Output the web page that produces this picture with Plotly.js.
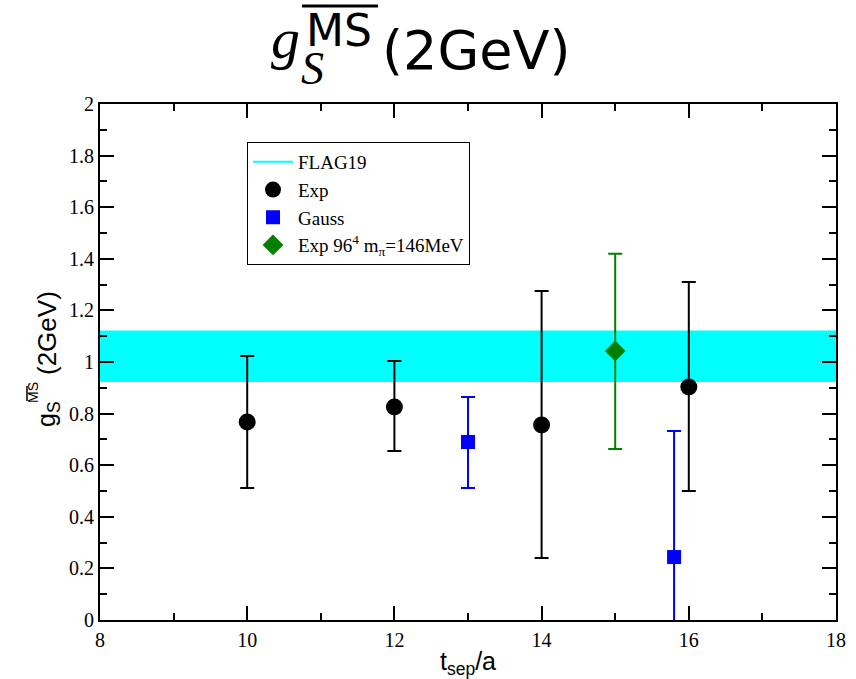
<!DOCTYPE html>
<html>
<head>
<meta charset="utf-8">
<script src="https://cdn.plot.ly/plotly-3.0.1.min.js"></script>
<style>html,body{margin:0;padding:0;background:#fff;}#chart{width:856px;height:679px;}</style>
</head>
<body>
<div id="chart"></div>
<script>
// ---- data ----
const flagBand = {xmin: 8, xmax: 18, low: 0.922, high: 1.122};

const expX   = [10, 12, 14, 16];
const expY   = [0.767, 0.826, 0.756, 0.903];
const expUp  = [0.256, 0.178, 0.519, 0.407];
const expDn  = [0.255, 0.171, 0.516, 0.403];

const gaussX  = [13, 15.8];
const gaussY  = [0.690, 0.244];
const gaussUp = [0.174, 0.489];
const gaussDn = [0.178, 0.489];

const exp96X  = [15];
const exp96Y  = [1.043];
const exp96Up = [0.377];
const exp96Dn = [0.380];

const xTickVals = [8, 10, 12, 14, 16, 18];
const yTickVals = [0, 0.2, 0.4, 0.6, 0.8, 1, 1.2, 1.4, 1.6, 1.8, 2];

// ---- geometry helpers (pixel -> paper) ----
const L = 100, R = 20, T = 104, B = 59, W = 856, H = 679;
const pw = W - L - R, ph = H - T - B;
const px = v => (v - L) / pw;
const py = v => (H - B - v) / ph;

const traces = [
  {x: [flagBand.xmin, flagBand.xmax, flagBand.xmax, flagBand.xmin],
   y: [flagBand.low, flagBand.low, flagBand.high, flagBand.high],
   fill: 'toself', fillcolor: '#00ffff', mode: 'lines', line: {width: 0, color: '#00ffff'},
   showlegend: false, hoverinfo: 'skip'},
  {x: [null], y: [null], mode: 'lines', name: 'FLAG19', line: {color: '#00ffff', width: 2}},
  {x: expX, y: expY, mode: 'markers', name: 'Exp',
   marker: {symbol: 'circle', size: 17, color: '#000000'},
   error_y: {type: 'data', symmetric: false, array: expUp, arrayminus: expDn, color: '#000000', thickness: 2, width: 7}},
  {x: gaussX, y: gaussY, mode: 'markers', name: 'Gauss',
   marker: {symbol: 'square', size: 14, color: '#0000ff'},
   error_y: {type: 'data', symmetric: false, array: gaussUp, arrayminus: gaussDn, color: '#0000ff', thickness: 2, width: 7}},
  {x: exp96X, y: exp96Y, mode: 'markers', name: 'Exp 96<sup>4</sup> m<sub>π</sub>=146MeV',
   marker: {symbol: 'diamond', size: 16, color: '#008000'},
   error_y: {type: 'data', symmetric: false, array: exp96Up, arrayminus: exp96Dn, color: '#008000', thickness: 2, width: 7}}
];

const axisCommon = {
  showline: true, linecolor: '#000', linewidth: 2, mirror: 'ticks',
  ticks: 'inside', ticklen: 14, tickwidth: 2, tickcolor: '#000',
  showgrid: false, zeroline: false,
  tickfont: {family: 'Liberation Serif', size: 20, color: '#000'}
};

const layout = {
  width: W, height: H,
  margin: {l: L, r: R, t: T, b: B},
  paper_bgcolor: '#fff', plot_bgcolor: '#fff',
  showlegend: true,
  legend: {x: px(247), y: py(142), xanchor: 'left', yanchor: 'top',
           bgcolor: '#fff', bordercolor: '#000', borderwidth: 1,
           font: {family: 'Liberation Serif', size: 19, color: '#000'},
           tracegroupgap: 0, itemwidth: 40},
  xaxis: Object.assign({}, axisCommon, {
    range: [8, 18], tickvals: xTickVals, ticklabelstandoff: 1,
    minor: {dtick: 1, ticks: 'inside', ticklen: 7, tickwidth: 2, tickcolor: '#000'},
    title: {text: 't<sub>sep</sub>/a', font: {family: 'Liberation Sans', size: 25, color: '#000'}, standoff: 2}
  }),
  yaxis: Object.assign({}, axisCommon, {
    range: [0, 2], tickvals: yTickVals,
    minor: {dtick: 0.1, ticks: 'inside', ticklen: 7, tickwidth: 2, tickcolor: '#000'}
  }),
  annotations: [
    // main title pieces
    {xref: 'paper', yref: 'paper', x: px(285), y: py(38), xanchor: 'center', yanchor: 'middle', showarrow: false,
     text: '<i>g</i>', font: {family: 'Liberation Serif', size: 58, color: '#000'}},
    {xref: 'paper', yref: 'paper', x: px(312), y: py(68), xanchor: 'center', yanchor: 'middle', showarrow: false,
     text: '<i>S</i>', font: {family: 'Liberation Serif', size: 46, color: '#000'}},
    {xref: 'paper', yref: 'paper', x: px(339), y: py(31), xanchor: 'center', yanchor: 'middle', showarrow: false,
     text: 'MS', font: {family: 'DejaVu Sans', size: 44, color: '#000'}},
    {xref: 'paper', yref: 'paper', x: px(476), y: py(50), xanchor: 'center', yanchor: 'middle', showarrow: false,
     text: '(2GeV)', font: {family: 'DejaVu Sans', size: 54, color: '#000'}},
    // y-axis title pieces
    {xref: 'paper', yref: 'paper', x: px(47), y: py(333), xanchor: 'center', yanchor: 'middle', showarrow: false, textangle: -90,
     text: '(2GeV)', font: {family: 'Liberation Sans', size: 26, color: '#000'}},
    {xref: 'paper', yref: 'paper', x: px(48), y: py(414), xanchor: 'center', yanchor: 'middle', showarrow: false, textangle: -90,
     text: 'g<sub>S</sub>', font: {family: 'Liberation Sans', size: 25, color: '#000'}},
    {xref: 'paper', yref: 'paper', x: px(33), y: py(393), xanchor: 'center', yanchor: 'middle', showarrow: false, textangle: -90,
     text: 'MS', font: {family: 'Liberation Sans', size: 14, color: '#000'}}
  ],
  shapes: [
    {type: 'line', xref: 'paper', yref: 'paper', x0: px(302), x1: px(378), y0: py(6), y1: py(6), line: {color: '#000', width: 3}},
    {type: 'line', xref: 'paper', yref: 'paper', x0: px(27), x1: px(27), y0: py(386), y1: py(401), line: {color: '#000', width: 1.5}}
  ]
};

Plotly.newPlot('chart', traces, layout, {displayModeBar: false, staticPlot: true});
</script>
</body>
</html>
